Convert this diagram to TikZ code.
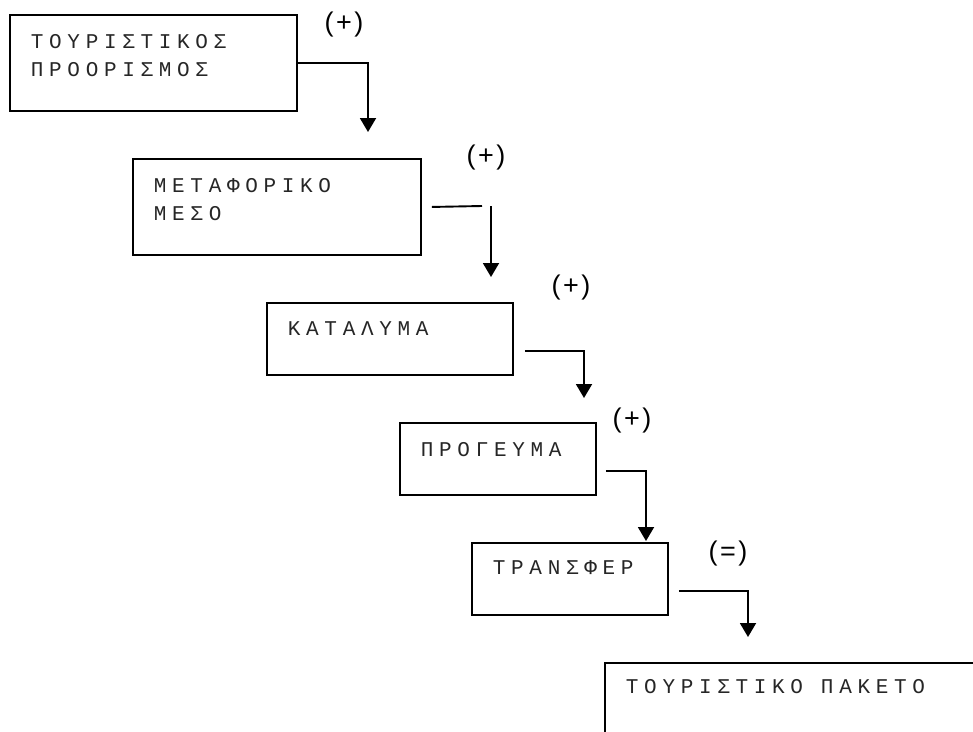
\documentclass[tikz,border=0pt]{standalone}
\usepackage{fontspec}
\usetikzlibrary{arrows.meta}
\newfontfamily\boxfont[LetterSpace=27]{Liberation Mono}
\newfontfamily\signfont[LetterSpace=9]{Liberation Sans}

\begin{document}
\begin{tikzpicture}
  [
    x=1pt, y=-1pt,
    line width=1.9pt,
    box/.style={draw, anchor=north west, align=left, inner xsep=21pt, inner ysep=0pt,
      font=\boxfont\fontsize{21}{28}\selectfont, text=black!85},
    sign/.style={font=\signfont\fontsize{27}{27}\selectfont}
    ]
  \tikzstyle{arrow} = [-{Triangle[width=16pt,length=14pt]}]

  \useasboundingbox (0,0) rectangle (973,731);
  \clip (0,0) rectangle (973,731);

  \node[box, text width=245pt, text height=34pt, text depth=62pt] (dest) at (9,14) {ΤΟΥΡΙΣΤΙΚΟΣ\\ΠΡΟΟΡΙΣΜΟΣ};
  \node[box, text width=246pt, text height=34pt, text depth=62pt] (transport) at (132,158) {ΜΕΤΑΦΟΡΙΚΟ\\ΜΕΣΟ};
  \node[box, text width=204pt, text height=33pt, text depth=39pt] (lodging) at (266,302) {ΚΑΤΑΛΥΜΑ};
  \node[box, text width=154pt, text height=34pt, text depth=38pt] (breakfast) at (399,422) {ΠΡΟΓΕΥΜΑ};
  \node[box, text width=154pt, text height=32pt, text depth=40pt] (transfer) at (471,542) {ΤΡΑΝΣΦΕΡ};
  \node[box, text width=378pt, text height=31pt, text depth=89pt] (package) at (604,662) {ΤΟΥΡΙΣΤΙΚΟ\hspace{18pt}ΠΑΚΕΤΟ};

  \node[sign] (plus1) at (344,25) {(+)};
  \node[sign] (plus2) at (486,158) {(+)};
  \node[sign] (plus3) at (571,288) {(+)};
  \node[sign] (plus4) at (632,421) {(+)};
  \node[sign] (equal) at (728,554) {(=)};

  % arrow ends, short of the next box
  \coordinate (tip1) at (368,132);
  \coordinate (gap2) at (482,206);
  \coordinate (bend2) at (491,206);
  \coordinate (tip2) at (491,277);
  \coordinate (tip3) at (584,398);
  \coordinate (tip4) at (646,541);
  \coordinate (tip5) at (748,637);

  \draw[arrow] (dest.east) -| (tip1);
  \draw ([xshift=10pt]transport.east) -- (gap2);
  \draw[arrow] (bend2) -- (tip2);
  \draw[arrow] ([shift={(11,12)}]lodging.east) -| (tip3);
  \draw[arrow] ([shift={(9,12)}]breakfast.east) -| (tip4);
  \draw[arrow] ([shift={(10,12)}]transfer.east) -| (tip5);

\end{tikzpicture}
\end{document}
